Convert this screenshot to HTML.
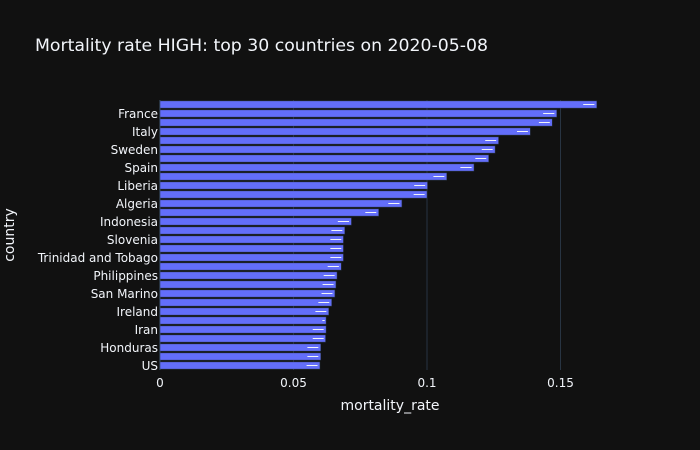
<!DOCTYPE html>
<html><head><meta charset="utf-8">
<style>
body{margin:0;background:#111111;}
svg{display:block;font-family:"DejaVu Sans","Liberation Sans",sans-serif;}
</style></head>
<body>
<svg id="chart" width="700" height="450" viewBox="0 0 700 450" xmlns="http://www.w3.org/2000/svg">
<rect x="0" y="0" width="700" height="450" fill="#111111"/>
<text x="35" y="51" font-size="17.3" fill="#f2f5fa">Mortality rate HIGH: top 30 countries on 2020-05-08</text>
<g id="grid"></g>
<g id="bars"></g>
<g id="errs"></g>
<g id="xticks"></g>
<g id="yticks"></g>
<text x="390" y="410" font-size="14" fill="#f2f5fa" text-anchor="middle">mortality_rate</text>
<text transform="translate(14,235) rotate(-90)" font-size="14" fill="#f2f5fa" text-anchor="middle">country</text>
</svg>
<script>
const countries = ["Belgium","France","United Kingdom","Italy","Nicaragua","Sweden","Netherlands","Spain","Mexico","Liberia","Sierra Leone","Algeria","Hungary","Indonesia","Bahamas","Slovenia","Niger","Trinidad and Tobago","Guyana","Philippines","Burkina Faso","San Marino","Ecuador","Ireland","Chad","Iran","Canada","Honduras","Romania","US"];
const rates = [0.1636,0.1486,0.1469,0.1387,0.1268,0.1255,0.1231,0.1176,0.1074,0.1002,0.1000,0.0906,0.0819,0.0717,0.0692,0.0687,0.0687,0.0687,0.0679,0.0663,0.0659,0.0655,0.0643,0.0632,0.0622,0.0622,0.0620,0.0602,0.0602,0.0599];
const errLow = [0.1585,0.1435,0.1419,0.1337,0.1218,0.1205,0.1181,0.1125,0.1024,0.0952,0.0950,0.0855,0.0769,0.0666,0.0642,0.0638,0.0638,0.0638,0.0628,0.0613,0.0609,0.0605,0.0593,0.0582,0.0608,0.0572,0.0572,0.0552,0.0552,0.0549];
const errHigh = [0.1627,0.1477,0.1460,0.1378,0.1259,0.1246,0.1222,0.1167,0.1065,0.0993,0.0991,0.0897,0.0810,0.0708,0.0683,0.0679,0.0679,0.0679,0.0670,0.0654,0.0650,0.0646,0.0634,0.0623,0.0617,0.0613,0.0613,0.0593,0.0593,0.0590];
const xTicks = [0,0.05,0.1,0.15];
const xTickLabels = ["0","0.05","0.1","0.15"];

const NS="http://www.w3.org/2000/svg";
const X0=160, PX=2670, Y0=100, H=270;
const slot=H/countries.length;
const xs=v=>X0+v*PX;
const ys=i=>Y0+i*slot;
function mk(t,a){const e=document.createElementNS(NS,t);for(const k in a)e.setAttribute(k,a[k]);return e;}
const grid=document.getElementById('grid'),bars=document.getElementById('bars'),errs=document.getElementById('errs'),xt=document.getElementById('xticks'),yt=document.getElementById('yticks');
xTicks.forEach((v,i)=>{
  const l=mk('line',{x1:xs(v),x2:xs(v),y1:Y0,y2:Y0+H,stroke:'#283442','stroke-width':v===0?2:1});
  
  
  grid.appendChild(l);
  const t=mk('text',{x:xs(v),y:Y0+H+17,'font-size':12,fill:'#f2f5fa','text-anchor':'middle'});
  t.textContent=xTickLabels[i];
  
  
  xt.appendChild(t);
});
countries.forEach((c,i)=>{
  const top=ys(i)+slot*0.1, bh=slot*0.8;
  const r=mk('rect',{x:X0,y:top,width:xs(rates[i])-X0,height:bh,fill:'#636efa',stroke:'#283442','stroke-width':0.5});
  
  
  bars.appendChild(r);
  const cy=ys(i)+slot/2;
  const e=mk('line',{x1:xs(errLow[i]),x2:xs(errHigh[i]),y1:cy,y2:cy,stroke:'#f2f5fa','stroke-width':1});
  
  
  errs.appendChild(e);
  if(i%2===1){
    const t=mk('text',{x:X0-2,y:cy+4.5,'font-size':12,fill:'#f2f5fa','text-anchor':'end'});
    t.textContent=c;
    
    
    yt.appendChild(t);
  }
});
</script>
</body></html>
